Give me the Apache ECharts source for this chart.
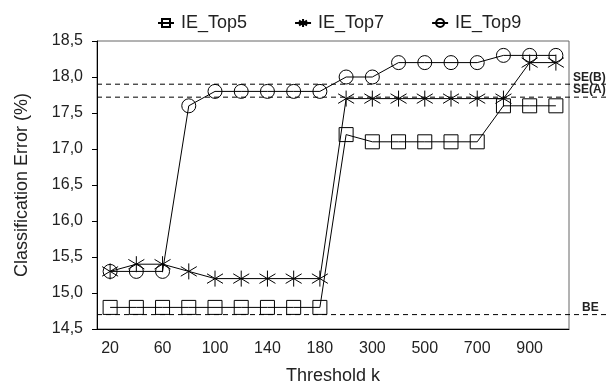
<!DOCTYPE html>
<html>
<head>
<meta charset="utf-8">
<script src="https://cdn.jsdelivr.net/npm/echarts@6/dist/echarts.min.js"></script>
<style>
  html, body { margin: 0; padding: 0; background: #fff; }
  #main { width: 609px; height: 390px; }
</style>
</head>
<body>
<div id="main"></div>
<script>
// 阈值 k
var thresholds = ['20', '40', '60', '80', '100', '120', '140', '160', '180',
    '200', '300', '400', '500', '600', '700', '800', '900', '1000'];
// 三条曲线
var top5 = [14.8, 14.8, 14.8, 14.8, 14.8, 14.8, 14.8, 14.8, 14.8,
    17.2, 17.1, 17.1, 17.1, 17.1, 17.1, 17.6, 17.6, 17.6];
var top7 = [15.3, 15.4, 15.4, 15.3, 15.2, 15.2, 15.2, 15.2, 15.2,
    17.7, 17.7, 17.7, 17.7, 17.7, 17.7, 17.7, 18.2, 18.2];
var top9 = [15.3, 15.3, 15.3, 17.6, 17.8, 17.8, 17.8, 17.8, 17.8,
    18.0, 18.0, 18.2, 18.2, 18.2, 18.2, 18.3, 18.3, 18.3];
// 参考线
var refNames = ['SE(B)', 'SE(A)', 'BE'];
var refValues = [17.9, 17.72, 14.7];

var font = "'Liberation Sans', Arial, sans-serif";
var starPath = 'path://M0,-10L0,10M-8,-6L8,6M-8,6L8,-6';

function makeSeries(name, data, symbol, size) {
    return {
        name: name,
        type: 'line',
        data: data,
        symbol: symbol,
        symbolSize: size,
        showAllSymbol: true,
        lineStyle: { color: '#000', width: 1 },
        itemStyle: { color: 'none', borderColor: '#000', borderWidth: 1 },
        emphasis: { disabled: true },
        z: 3
    };
}

var chart = echarts.init(document.getElementById('main'));
var option = {
    animation: false,
    textStyle: { fontFamily: font },
    legend: {
        top: 9,
        left: 152,
        itemWidth: 16,
        itemHeight: 10,
        itemGap: 47,
        textStyle: { fontSize: 18, color: '#222', fontFamily: font, padding: [0, 0, 0, 2] },
        data: ['IE_Top5', 'IE_Top7', 'IE_Top9']
    },
    grid: {
        left: 97, right: 40, top: 41, bottom: 61,
        show: true, borderColor: '#666', borderWidth: 1
    },
    xAxis: {
        type: 'category',
        data: thresholds,
        boundaryGap: true,
        name: 'Threshold k',
        nameLocation: 'middle',
        nameGap: 38,
        nameTextStyle: { fontSize: 18, color: '#222', fontFamily: font },
        axisLine: { lineStyle: { color: '#000', width: 1 } },
        axisTick: { interval: 0, length: 5, lineStyle: { color: '#000' } },
        axisLabel: { interval: 1, fontSize: 16, color: '#222', margin: 12, fontFamily: font },
        splitLine: { show: false }
    },
    yAxis: {
        type: 'value',
        min: 14.5,
        max: 18.5,
        interval: 0.5,
        name: 'Classification Error (%)',
        nameLocation: 'middle',
        nameGap: 66,
        nameTextStyle: { fontSize: 18, color: '#222', fontFamily: font },
        axisLine: { show: true, lineStyle: { color: '#000', width: 1 } },
        axisTick: { show: true, length: 5, lineStyle: { color: '#000' } },
        axisLabel: {
            fontSize: 16, color: '#222', margin: 14, fontFamily: font,
            formatter: function (v) { return v.toFixed(1).replace('.', ','); }
        },
        splitLine: { show: false }
    },
    series: [
        makeSeries('IE_Top5', top5, 'rect', 14),
        makeSeries('IE_Top7', top7, starPath, 16),
        makeSeries('IE_Top9', top9, 'circle', 14)
    ]
};
chart.setOption(option);

// 参考虚线和右侧标签
var graphics = [];
for (var i = 0; i < refValues.length; i++) {
    var y = chart.convertToPixel({ yAxisIndex: 0 }, refValues[i]);
    graphics.push({
        type: 'line',
        z: 2,
        shape: { x1: 97, y1: y, x2: 609, y2: y },
        style: { stroke: '#000', lineWidth: 1, lineDash: [5, 4] }
    });
    graphics.push({
        type: 'text',
        z: 4,
        x: refNames[i] === 'BE' ? 582 : 573,
        y: y - 1,
        style: {
            text: refNames[i],
            fill: '#222',
            font: 'bold 12px ' + font,
            textVerticalAlign: 'bottom'
        }
    });
}
chart.setOption({ graphic: graphics });
</script>
</body>
</html>
